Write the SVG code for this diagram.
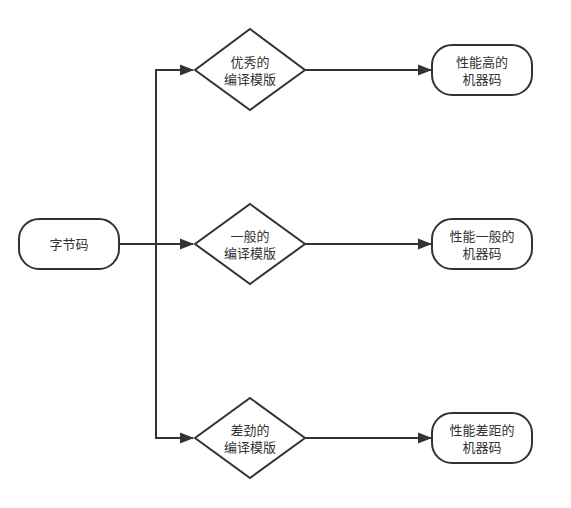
<svg xmlns="http://www.w3.org/2000/svg" width="571" height="508" viewBox="0 0 571 508">
<style>
.s{fill:#fff;stroke:#333;stroke-width:2}
.t{font-family:"Liberation Sans","Noto Sans CJK SC",sans-serif;font-size:13px;fill:#333;text-anchor:middle}
.c{fill:none;stroke:#333;stroke-width:2}
</style>
<defs>
<marker id="a" markerWidth="14" markerHeight="12" refX="13" refY="6" orient="auto" markerUnits="userSpaceOnUse" viewBox="0 0 14 12">
<path d="M0,0.5 L14,6 L0,11.5 Z" fill="#333"/>
</marker>
</defs>
<rect width="571" height="508" fill="#fff"/>
<g id="connectors">
<path class="c" d="M119,244 H156 V70 H193" marker-end="url(#a)"/>
<path class="c" d="M119,244 H193" marker-end="url(#a)"/>
<path class="c" d="M156,244 V438 H193" marker-end="url(#a)"/>
<path class="c" d="M305,70 H431" marker-end="url(#a)"/>
<path class="c" d="M305,244 H431" marker-end="url(#a)"/>
<path class="c" d="M305,438 H431" marker-end="url(#a)"/>
</g>
<g id="start">
<rect class="s" x="19" y="219" width="100" height="50" rx="20"/>
<text class="t" x="69" y="249">字节码</text>
</g>
<g id="d1">
<path class="s" d="M250,29 L305,70 L250,110 L195,70 Z"/>
<text class="t" x="250" y="67">优秀的</text>
<text class="t" x="250" y="84">编译模版</text>
</g>
<g id="d2">
<path class="s" d="M250,204 L305,244 L250,284 L195,244 Z"/>
<text class="t" x="250" y="241">一般的</text>
<text class="t" x="250" y="258">编译模版</text>
</g>
<g id="d3">
<path class="s" d="M250,398 L305,438 L250,478 L195,438 Z"/>
<text class="t" x="250" y="435">差劲的</text>
<text class="t" x="250" y="452">编译模版</text>
</g>
<g id="e1">
<rect class="s" x="432" y="45" width="100" height="50" rx="20"/>
<text class="t" x="482" y="67">性能高的</text>
<text class="t" x="482" y="84">机器码</text>
</g>
<g id="e2">
<rect class="s" x="432" y="219" width="100" height="50" rx="20"/>
<text class="t" x="482" y="241">性能一般的</text>
<text class="t" x="482" y="258">机器码</text>
</g>
<g id="e3">
<rect class="s" x="432" y="413" width="100" height="50" rx="20"/>
<text class="t" x="482" y="435">性能差距的</text>
<text class="t" x="482" y="452">机器码</text>
</g>
</svg>
